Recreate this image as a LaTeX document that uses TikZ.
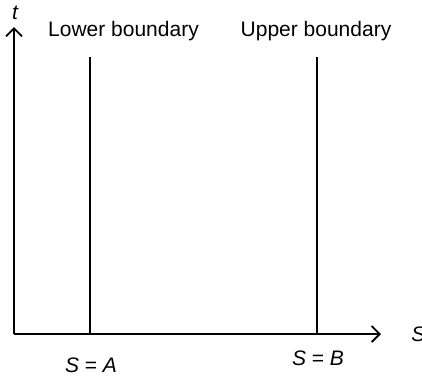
\documentclass[tikz,border=0pt]{standalone}
\usepackage{fontspec}
\setmainfont{Liberation Sans}
\usetikzlibrary{arrows.meta,positioning}

\tikzset{
  axis/.style={line width=0.9pt,-{Straight Barb[length=4pt,width=8pt,line width=0.9pt]}},
  bound/.style={line width=0.9pt},
  lbl/.style={inner sep=0pt,anchor=base,font=\fontsize{10.5}{12}\selectfont}
}

\begin{document}
\begin{tikzpicture}[x=0.5pt,y=0.5pt]
\useasboundingbox (0,0) rectangle (422,377);
\coordinate (o) at (14,43);
\coordinate (ttip) at (14,350);
\coordinate (stip) at (381,43);
\coordinate (a0) at (90,43);
\coordinate (a1) at (90,320);
\coordinate (b0) at (317,43);
\coordinate (b1) at (317,320);
\node[lbl] (tl) at (15.5,358) {\textit{t}};
\node[lbl,anchor=base west] (sl) at (411,35.5) {\textit{S}};
\node[lbl] (lowl) at (123.5,341) {Lower boundary};
\node[lbl] (upl) at (316,341) {Upper boundary};
\node[lbl] (sa) at (91,5) {\textit{S} = \textit{A}};
\node[lbl] (sb) at (318,12) {\textit{S} = \textit{B}};
\draw[axis] (o) -- (ttip);
\draw[axis] (o) -- (stip);
\draw[bound] (a0) -- (a1);
\draw[bound] (b0) -- (b1);
\end{tikzpicture}
\end{document}
